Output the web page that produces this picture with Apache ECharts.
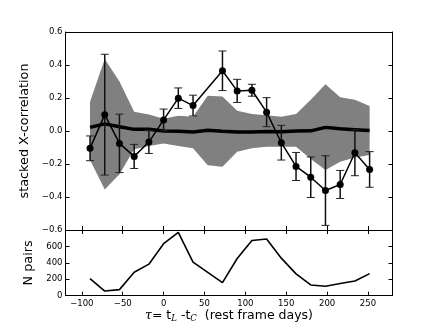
<!DOCTYPE html>
<html>
<head>
<meta charset="utf-8">
<script src="https://cdn.jsdelivr.net/npm/echarts@6/dist/echarts.min.js"></script>
<style>
html,body{margin:0;padding:0;background:#fff;}
#chart{width:436px;height:329px;}
</style>
</head>
<body>
<div id="chart"></div>
<script>
// ---- data ----
var lagX = [-90,-72,-54,-36,-18,0,18,36,72,90,108,126,144,162,180,198,216,234,252];
var xcorr = [-0.105,0.099,-0.075,-0.154,-0.067,0.067,0.199,0.154,0.365,0.243,0.247,0.114,-0.071,-0.215,-0.280,-0.361,-0.324,-0.132,-0.233];
var xcorrErr = [0.075,0.366,0.177,0.073,0.069,0.066,0.062,0.063,0.120,0.070,0.036,0.088,0.105,0.085,0.123,0.211,0.085,0.139,0.108];

var bandX = [-90,-72,-54,-36,-18,0,18,36,54,72,90,108,126,144,162,180,198,216,234,252];
var meanCorr = [0.022,0.043,0.026,0.010,0.010,0.000,-0.002,-0.006,0.004,-0.002,-0.006,-0.006,-0.003,-0.004,0.000,0.001,0.022,0.013,0.008,0.003];
var bandHi = [0.178,0.436,0.300,0.117,0.100,0.075,0.093,0.087,0.213,0.209,0.123,0.103,0.095,0.087,0.103,0.190,0.284,0.205,0.189,0.152];
var bandLo = [-0.176,-0.355,-0.262,-0.111,-0.091,-0.075,-0.091,-0.105,-0.207,-0.217,-0.126,-0.105,-0.095,-0.095,-0.095,-0.170,-0.237,-0.187,-0.160,-0.146];

var nPairsX = [-90,-72,-54,-36,-18,0,18,36,72,90,108,126,144,162,180,198,216,234,252];
var nPairs = [208,57,74,286,384,633,771,408,160,453,673,690,457,266,131,115,148,180,269];

var xTicks = [-100,-50,0,50,100,150,200,250];
var yTicksTop = [-0.6,-0.4,-0.2,0.0,0.2,0.4,0.6];
var yTicksBottom = [0,200,400,600,800];

// ---- chart ----
var chart = echarts.init(document.getElementById('chart'), null, {renderer:'canvas'});
var FONT = 'DejaVu Sans';
var fmtMinus = function(s){ return String(s).replace('-', '\u2212'); };

function xAxisDef(grid, pos, showLabels, extra){
  var a = {
    type:'value', gridIndex:grid, position:pos, min:-120, max:280,
    axisLine:{show:true, onZero:false, lineStyle:{color:'#000', width:1}},
    axisTick:{show:true, inside:true, length:4, customValues:xTicks, lineStyle:{color:'#000'}},
    axisLabel:{show:showLabels, customValues:xTicks, color:'#000', fontFamily:FONT, fontSize:8.5, margin:4,
      formatter:function(v){return fmtMinus(v);}},
    splitLine:{show:false}
  };
  if(extra){ for(var k in extra) a[k]=extra[k]; }
  return a;
}
function yAxisDef(grid, pos, showLabels, min, max, ticks, fmt, extra){
  var a = {
    type:'value', gridIndex:grid, position:pos, min:min, max:max,
    axisLine:{show:true, onZero:false, lineStyle:{color:'#000', width:1}},
    axisTick:{show:true, inside:true, length:4, customValues:ticks, lineStyle:{color:'#000'}},
    axisLabel:{show:showLabels, customValues:ticks, color:'#000', fontFamily:FONT, fontSize:8.5, margin:3, formatter:fmt},
    splitLine:{show:false}
  };
  if(extra){ for(var k in extra) a[k]=extra[k]; }
  return a;
}

var errData = lagX.map(function(x,i){ return [x, xcorr[i], xcorrErr[i]]; });
var bandData = bandX.map(function(x,i){ return [x, bandLo[i], bandHi[i]]; });

var option = {
  animation:false,
  backgroundColor:'#fff',
  grid:[
    {left:65.5, top:32, width:327, height:198},
    {left:65.5, top:230, width:327, height:65.7}
  ],
  xAxis:[
    xAxisDef(0,'bottom',false),
    xAxisDef(0,'top',false,{axisTick:{show:false}}),
    xAxisDef(1,'bottom',true,{
      name:'{tau|\u03c4}{n|= t}{sub|L}{n| -t}{sub|C}{n|  (rest frame days)}',
      nameLocation:'middle', nameGap:13,
      nameTextStyle:{color:'#000', fontFamily:FONT, fontSize:12.5,
        rich:{
          tau:{fontFamily:'DejaVu Serif', fontStyle:'italic', fontSize:12.5, color:'#000'},
          n:{fontFamily:FONT, fontSize:12.5, color:'#000'},
          sub:{fontFamily:'DejaVu Serif', fontStyle:'italic', fontSize:8.5, color:'#000', verticalAlign:'bottom', padding:[6,0,0,0]}
        }}
    }),
    xAxisDef(1,'top',false)
  ],
  yAxis:[
    yAxisDef(0,'left',true,-0.6,0.6,yTicksTop,function(v){return fmtMinus(v.toFixed(1));},{
      name:'stacked X-correlation', nameLocation:'middle', nameGap:24, nameRotate:90,
      nameTextStyle:{color:'#000', fontFamily:FONT, fontSize:12.8}
    }),
    yAxisDef(0,'right',false,-0.6,0.6,yTicksTop,null),
    yAxisDef(1,'left',true,0,800,yTicksBottom,function(v){return v===800?'':String(v);},{
      name:'N pairs', nameLocation:'middle', nameGap:24, nameRotate:90,
      nameTextStyle:{color:'#000', fontFamily:FONT, fontSize:12.8}
    }),
    yAxisDef(1,'right',false,0,800,[200,400,600],null)
  ],
  series:[
    {
      type:'custom', xAxisIndex:0, yAxisIndex:0, z:1,
      data:bandData,
      renderItem:function(params, api){
        if(params.dataIndex!==0) return null;
        var pts=[];
        for(var i=0;i<bandX.length;i++) pts.push(api.coord([bandX[i], bandHi[i]]));
        for(var j=bandX.length-1;j>=0;j--) pts.push(api.coord([bandX[j], bandLo[j]]));
        return {type:'polygon', shape:{points:pts}, style:{fill:'#808080', stroke:null}};
      },
      silent:true
    },
    {
      type:'line', xAxisIndex:0, yAxisIndex:0, z:2,
      data:bandX.map(function(x,i){return [x, meanCorr[i]];}),
      showSymbol:false, symbol:'none',
      lineStyle:{color:'#000', width:3.5}
    },
    {
      type:'custom', xAxisIndex:0, yAxisIndex:0, z:3,
      data:errData,
      renderItem:function(params, api){
        var x=api.value(0), y=api.value(1), e=api.value(2);
        var top=api.coord([x, y+e]), bot=api.coord([x, y-e]);
        var w=4;
        var st={stroke:'#111', lineWidth:1.5};
        return {type:'group', children:[
          {type:'line', shape:{x1:top[0],y1:top[1],x2:bot[0],y2:bot[1]}, style:st},
          {type:'line', shape:{x1:top[0]-w,y1:top[1],x2:top[0]+w,y2:top[1]}, style:{stroke:'#222', lineWidth:1}},
          {type:'line', shape:{x1:bot[0]-w,y1:bot[1],x2:bot[0]+w,y2:bot[1]}, style:{stroke:'#222', lineWidth:1}}
        ]};
      },
      silent:true
    },
    {
      type:'line', xAxisIndex:0, yAxisIndex:0, z:4,
      data:lagX.map(function(x,i){return [x, xcorr[i]];}),
      symbol:'circle', symbolSize:7, showSymbol:true,
      itemStyle:{color:'#000'},
      lineStyle:{color:'#000', width:1.5}
    },
    {
      type:'line', xAxisIndex:2, yAxisIndex:2, z:4,
      data:nPairsX.map(function(x,i){return [x, nPairs[i]];}),
      symbol:'none', showSymbol:false,
      lineStyle:{color:'#000', width:1.6}
    }
  ]
};
chart.setOption(option);
</script>
</body>
</html>
